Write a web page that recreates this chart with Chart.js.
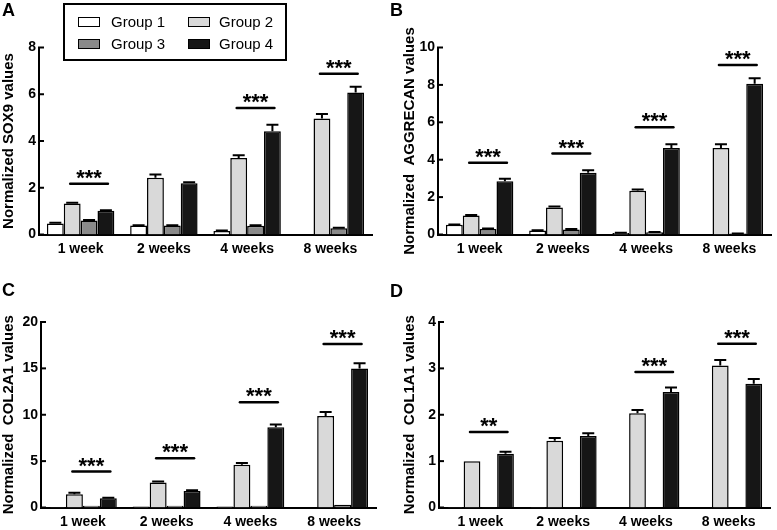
<!DOCTYPE html>
<html>
<head>
<meta charset="utf-8">
<script src="https://cdn.jsdelivr.net/npm/chart.js@4.4.1/dist/chart.umd.min.js"></script>
<style>
  html, body { margin: 0; padding: 0; background: #fff; }
  body { width: 777px; height: 530px; position: relative; overflow: hidden; font-family: "Liberation Sans", Arial, sans-serif; color: #000; }
  canvas { position: absolute; }
  .tag { position: absolute; font-weight: bold; font-size: 18px; line-height: 18px; }
  #legend { position: absolute; left: 63px; top: 3px; width: 224px; height: 58px; border: 2px solid #000; box-sizing: border-box; background: #fff; }
  .sw { position: absolute; width: 22px; height: 10px; border: 1.5px solid #000; box-sizing: border-box; }
  .lt { position: absolute; font-size: 15px; line-height: 15px; white-space: nowrap; }
</style>
</head>
<body>
<canvas id="chartA" width="388" height="265" style="left:0;top:0"></canvas>
<canvas id="chartB" width="389" height="265" style="left:388px;top:0"></canvas>
<canvas id="chartC" width="388" height="265" style="left:0;top:265px"></canvas>
<canvas id="chartD" width="389" height="265" style="left:388px;top:265px"></canvas>
<div class="tag" style="left:2px;top:1px">A</div>
<div class="tag" style="left:390px;top:1px">B</div>
<div class="tag" style="left:2px;top:281px">C</div>
<div class="tag" style="left:390px;top:282px">D</div>
<div id="legend"></div>

<script>
// categories and groups
const weeks = ['1 week', '2 weeks', '4 weeks', '8 weeks'];
const groupNames = ['Group 1', 'Group 2', 'Group 3', 'Group 4'];
const groupColors = ['#ffffff', '#d9d9d9', '#8a8a8a', '#161616'];

// A - SOX9 (rows = groups, cols = weeks)
const sox9 = [
  [0.47, 0.38, 0.15, 0],
  [1.33, 2.43, 3.27, 4.96],
  [0.60, 0.38, 0.37, 0.27],
  [1.02, 2.19, 4.42, 6.07]
];
const sox9Err = [
  [0.03, 0.02, 0.02, 0],
  [0.03, 0.14, 0.12, 0.20],
  [0.02, 0.02, 0.03, 0.02],
  [0.02, 0.05, 0.27, 0.25]
];
const sox9Sig = [[0, '***', 2.17], [2, '***', 5.41], [3, '***', 6.88]];

// B - AGGRECAN
const aggrecan = [
  [0.52, 0.21, 0.08, 0],
  [1.02, 1.44, 2.34, 4.63],
  [0.30, 0.27, 0.12, 0.05],
  [2.85, 3.30, 4.63, 8.06]
];
const aggrecanErr = [
  [0.02, 0.02, 0.01, 0],
  [0.02, 0.06, 0.07, 0.20],
  [0.02, 0.02, 0.01, 0.01],
  [0.13, 0.14, 0.20, 0.30]
];
const aggrecanSig = [[0, '***', 3.84], [1, '***', 4.33], [2, '***', 5.74], [3, '***', 9.06]];

// C - COL2A1
const col2a1 = [
  [0.05, 0.10, 0.10, 0],
  [1.43, 2.69, 4.62, 9.86],
  [0.20, 0.20, 0.20, 0.30],
  [1.00, 1.79, 8.64, 14.98]
];
const col2a1Err = [
  [0, 0, 0, 0],
  [0.15, 0.11, 0.18, 0.43],
  [0, 0, 0, 0],
  [0.05, 0.07, 0.32, 0.58]
];
const col2a1Sig = [[0, '***', 3.87], [1, '***', 5.3], [2, '***', 11.36], [3, '***', 17.63]];

// D - COL1A1
const col1a1 = [
  [0.01, 0.01, 0, 0],
  [1.00, 1.44, 2.03, 3.06],
  [0.01, 0.01, 0, 0],
  [1.16, 1.54, 2.49, 2.67]
];
const col1a1Err = [
  [0, 0, 0, 0],
  [0, 0.06, 0.07, 0.12],
  [0, 0, 0, 0],
  [0.04, 0.06, 0.10, 0.10]
];
const col1a1Sig = [[0, '**', 1.63], [2, '***', 2.92], [3, '***', 3.53]];

const FONT = '"Liberation Sans", Arial, sans-serif';

// error bars (upper only), significance bars and inward y ticks
const extras = {
  id: 'extras',
  afterDatasetsDraw(chart, args, opts) {
    const { ctx, chartArea, scales: { y } } = chart;
    ctx.save();
    ctx.strokeStyle = '#000';
    ctx.lineWidth = 2;
    chart.data.datasets.forEach((ds, i) => {
      chart.getDatasetMeta(i).data.forEach((bar, j) => {
        const e = ds.err[j];
        if (!e) return;
        const y0 = y.getPixelForValue(ds.data[j]);
        const y1 = y.getPixelForValue(ds.data[j] + e);
        ctx.beginPath();
        ctx.moveTo(bar.x, y0);
        ctx.lineTo(bar.x, y1);
        ctx.moveTo(bar.x - 6, y1);
        ctx.lineTo(bar.x + 6, y1);
        ctx.stroke();
      });
    });

    ctx.lineWidth = 2.5;
    ctx.lineCap = 'round';
    ctx.fillStyle = '#000';
    ctx.font = 'bold 22px ' + FONT;
    ctx.textAlign = 'center';
    ctx.textBaseline = 'alphabetic';
    (opts.sig || []).forEach(([k, stars, v]) => {
      const a = chart.getDatasetMeta(1).data[k].x - 2;
      const b = chart.getDatasetMeta(3).data[k].x + 2;
      const py = y.getPixelForValue(v);
      ctx.beginPath();
      ctx.moveTo(a, py);
      ctx.lineTo(b, py);
      ctx.stroke();
      ctx.fillText(stars, (a + b) / 2, py + 1);
    });

    ctx.lineCap = 'butt';
    ctx.lineWidth = 2;
    y.ticks.forEach(t => {
      const py = y.getPixelForValue(t.value);
      ctx.beginPath();
      ctx.moveTo(chartArea.left - 1, py);
      ctx.lineTo(chartArea.left + 5, py);
      ctx.stroke();
    });
    ctx.restore();
  }
};

function makeChart(id, title, mean, err, sig, max, step, g) {
  return new Chart(document.getElementById(id), {
    type: 'bar',
    data: {
      labels: weeks,
      datasets: groupNames.map((name, i) => ({
        label: name,
        data: mean[i],
        err: err[i],
        backgroundColor: groupColors[i],
        borderColor: '#000',
        borderWidth: 1.5
      }))
    },
    options: {
      responsive: false,
      animation: false,
      devicePixelRatio: 1,
      layout: { padding: { left: g.left, top: g.top, right: g.right, bottom: 0 } },
      datasets: { bar: { categoryPercentage: 0.81, barPercentage: 1 } },
      plugins: {
        legend: { display: false },
        tooltip: { enabled: false },
        extras: { sig }
      },
      scales: {
        x: {
          grid: { display: false, drawTicks: false },
          border: { color: '#000', width: 2 },
          ticks: { color: '#000', padding: 6, font: { family: FONT, size: 14, weight: 'bold' } },
          afterFit: s => { s.height = g.bottom; }
        },
        y: {
          min: 0,
          max: max,
          grid: { display: false, drawTicks: false },
          border: { color: '#000', width: 2 },
          ticks: { stepSize: step, color: '#000', padding: 3, font: { family: FONT, size: 14, weight: 'bold' } },
          title: {
            display: true,
            text: title,
            color: '#000',
            padding: { top: 0, bottom: 0 },
            font: { family: FONT, size: 15, weight: 'bold' }
          },
          afterFit: s => { s.width = g.axis; }
        }
      }
    },
    plugins: [extras]
  });
}

makeChart('chartA', 'Normalized SOX9 values', sox9, sox9Err, sox9Sig, 8, 2,
  { left: 0, axis: 39, right: 16, top: 47.5, bottom: 30.5 });
makeChart('chartB', 'Normalized  AGGRECAN values', aggrecan, aggrecanErr, aggrecanSig, 10, 2,
  { left: 13, axis: 37, right: 6, top: 47.5, bottom: 30.5 });
makeChart('chartC', 'Normalized  COL2A1 values', col2a1, col2a1Err, col2a1Sig, 20, 5,
  { left: 0, axis: 41, right: 12, top: 57, bottom: 22.5 });
makeChart('chartD', 'Normalized  COL1A1 values', col1a1, col1a1Err, col1a1Sig, 4, 1,
  { left: 13, axis: 38, right: 7, top: 57, bottom: 22.5 });

// legend in panel A
groupNames.forEach((name, i) => {
  const col = i % 2, row = Math.floor(i / 2);
  const sw = document.createElement('div');
  sw.className = 'sw';
  sw.style.left = (78 + col * 110) + 'px';
  sw.style.top = (17 + row * 22) + 'px';
  sw.style.background = groupColors[i];
  document.body.appendChild(sw);
  const t = document.createElement('div');
  t.className = 'lt';
  t.textContent = name;
  t.style.left = (111 + col * 108) + 'px';
  t.style.top = (13.5 + row * 22) + 'px';
  document.body.appendChild(t);
});
</script>
</body>
</html>
